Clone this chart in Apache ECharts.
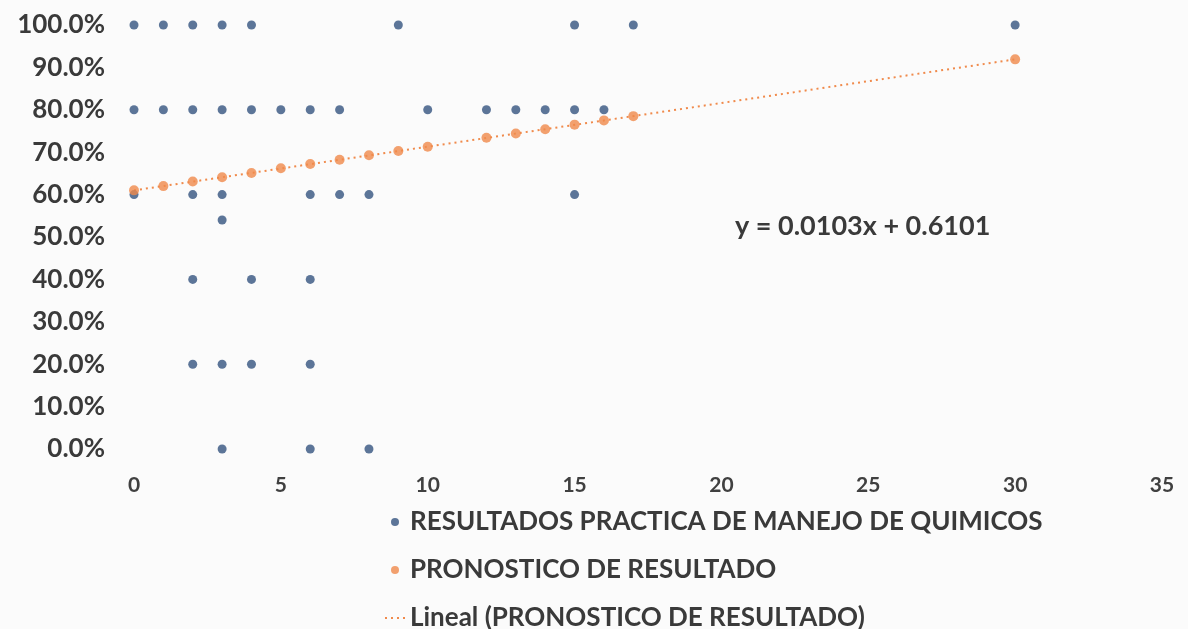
<!DOCTYPE html>
<html>
<head>
<meta charset="utf-8">
<script src="https://cdn.jsdelivr.net/npm/echarts@6/dist/echarts.min.js"></script>
<style>
  html, body { margin: 0; padding: 0; background: #fbfbfb; }
  #chart { width: 1188px; height: 629px; }
</style>
</head>
<body>
<div id="chart"></div>
<script>
// resultados observados (x = valor, y = proporción)
const resultadosX = [0, 1, 2, 3, 4, 9, 15, 17, 30,
  0, 1, 2, 3, 4, 5, 6, 7, 10, 12, 13, 14, 15, 16,
  0, 2, 3, 6, 7, 8, 15,
  3,
  2, 4, 6,
  2, 3, 4, 6,
  3, 6, 8]
const resultadosY = [1, 1, 1, 1, 1, 1, 1, 1, 1,
  0.8, 0.8, 0.8, 0.8, 0.8, 0.8, 0.8, 0.8, 0.8, 0.8, 0.8, 0.8, 0.8, 0.8,
  0.6, 0.6, 0.6, 0.6, 0.6, 0.6, 0.6,
  0.54,
  0.4, 0.4, 0.4,
  0.2, 0.2, 0.2, 0.2,
  0, 0, 0]

// pronóstico
const pronosticoX = [0, 1, 2, 3, 4, 5, 6, 7, 8, 9, 10, 12, 13, 14, 15, 16, 17, 30]
const pronosticoY = [0.610, 0.620, 0.631, 0.641, 0.651, 0.662, 0.672, 0.682, 0.693,
  0.703, 0.713, 0.734, 0.744, 0.754, 0.765, 0.775, 0.785, 0.919]

// línea de tendencia
const tendenciaX = [0, 30]
const tendenciaY = [0.610, 0.919]

const nombres = [
  'RESULTADOS PRACTICA DE MANEJO DE QUIMICOS',
  'PRONOSTICO DE RESULTADO',
  'Lineal (PRONOSTICO DE RESULTADO)'
]
const ecuacion = 'y = 0.0103x + 0.6101'

const zip = (xs, ys) => xs.map((x, i) => [x, ys[i]])

const chartBox = echarts.init(document.getElementById('chart'))
const font = 'Lato, "Open Sans", sans-serif'

const option = {
  backgroundColor: '#fbfbfb',
  textStyle: { fontFamily: font },
  animation: false,
  grid: { left: 134, right: 26, top: 25, bottom: 180 },
  xAxis: {
    type: 'value',
    min: 0,
    max: 35,
    interval: 5,
    axisLine: { show: false },
    axisTick: { show: false },
    splitLine: { show: false },
    axisLabel: { color: '#404040', fontSize: 21, fontWeight: 'bold', margin: 26, fontFamily: font }
  },
  yAxis: {
    type: 'value',
    min: 0,
    max: 1,
    interval: 0.1,
    axisLine: { show: false },
    axisTick: { show: false },
    splitLine: { show: false },
    axisLabel: {
      color: '#3a3a3a',
      fontSize: 26,
      fontWeight: 'bold',
      margin: 29,
      fontFamily: font,
      formatter: v => (v * 100).toFixed(1) + '%'
    }
  },
  legend: {
    orient: 'vertical',
    left: 384,
    top: 509,
    height: 160,
    padding: 0,
    itemGap: 22,
    itemWidth: 20,
    itemHeight: 8,
    textStyle: { color: '#3a3a3a', fontSize: 26, lineHeight: 26, fontWeight: 'bold', fontFamily: font },
    data: [
      { name: nombres[0], icon: 'circle' },
      { name: nombres[1], icon: 'circle' },
      { name: nombres[2] }
    ]
  },
  graphic: [
    {
      type: 'text',
      left: 735,
      top: 213,
      style: { text: ecuacion, fill: '#3a3a3a', font: 'bold 27px ' + font }
    }
  ],
  series: [
    {
      name: nombres[2],
      type: 'line',
      data: zip(tendenciaX, tendenciaY),
      symbol: 'none',
      z: 1,
      lineStyle: { color: '#f08a4b', width: 2, type: [2, 4] },
      itemStyle: { color: '#f08a4b', opacity: 0 }
    },
    {
      name: nombres[0],
      type: 'scatter',
      data: zip(resultadosX, resultadosY),
      symbolSize: 9,
      z: 2,
      itemStyle: { color: '#34547f' }
    },
    {
      name: nombres[1],
      type: 'scatter',
      data: zip(pronosticoX, pronosticoY),
      symbolSize: 10,
      z: 3,
      itemStyle: { color: '#f08a4b' }
    }
  ]
}

chartBox.setOption(option, true)
</script>
</body>
</html>
